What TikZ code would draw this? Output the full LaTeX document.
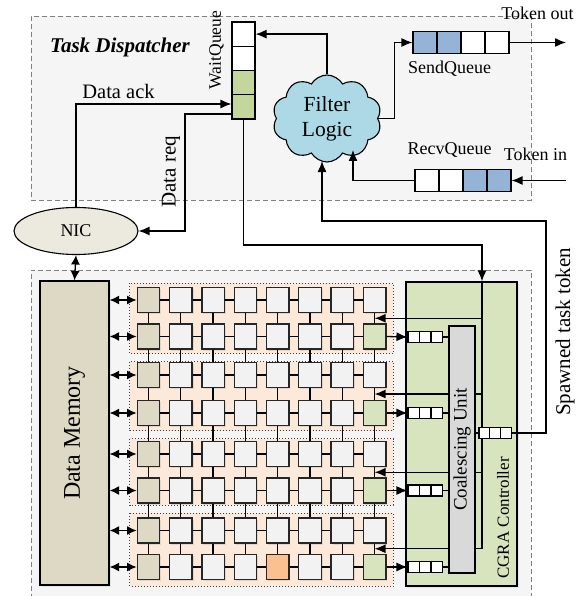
\documentclass[tikz,border=0pt]{standalone}
\usepackage{fontspec}
\setmainfont{Liberation Serif}
\usetikzlibrary{arrows.meta,shapes.symbols,shapes.geometric,shadows,calc}
\definecolor{dfill}{HTML}{F5F5F5}
\definecolor{dgray}{HTML}{808080}
\definecolor{qgreen}{HTML}{C3D69B}
\definecolor{qblue}{HTML}{95B3D7}
\definecolor{cloudblue}{HTML}{ADD8E6}
\definecolor{nicfill}{HTML}{ECEADF}
\definecolor{tan}{HTML}{DDD9C4}
\definecolor{pegray}{HTML}{F2F2F2}
\definecolor{pegreen}{HTML}{D7E4BD}
\definecolor{peorange}{HTML}{FAC090}
\definecolor{pinkbg}{HTML}{FDE9D9}
\definecolor{cufill}{HTML}{D9D9D9}
\definecolor{pedraw}{HTML}{262626}
\begin{document}
\begin{tikzpicture}[x=1pt,y=-1pt,
  every node/.style={font=\fontsize{18}{20}\selectfont},
  ln/.style={line width=1.3pt},
  arr/.style={ln,-{Latex[length=11pt,width=9pt]}},
  darr/.style={ln,{Latex[length=9.5pt,width=9pt]}-{Latex[length=9.5pt,width=9pt]}},
  dbox/.style={draw=dgray,dash pattern=on 5pt off 3pt,line width=0.9pt,fill=dfill,inner sep=0pt,anchor=north west},
  cell/.style={draw=black,line width=1.1pt,inner sep=0pt},
  pe/.style={draw=pedraw,line width=1.3pt,minimum width=22.5pt,minimum height=25pt,inner sep=0pt,
     drop shadow={opacity=0.2,shadow xshift=1.5pt,shadow yshift=-1.5pt}},
  grp/.style={draw=black!75,dotted,line width=1pt,fill=pinkbg},
  bigbox/.style={draw=black,line width=1.2pt,inner sep=0pt,
     drop shadow={opacity=0.15,shadow xshift=2pt,shadow yshift=-2pt}},
]
\useasboundingbox (0,0) rectangle (585,596);
\clip (0,0) rectangle (585,596);

% ---------- dashed regions ----------
\node[dbox,minimum width=500pt,minimum height=184pt] (td) at (31,16) {};
\node[dbox,minimum width=500pt,minimum height=340pt] (cg) at (31,270) {};

\node[font=\fontsize{21}{21}\selectfont\bfseries\itshape] (tdl) at (120,47) {Task Dispatcher};

% ---------- WaitQueue ----------
\foreach \i/\c in {1/white,2/white,3/qgreen,4/qgreen}
  \node[cell,fill=\c,minimum width=23pt,minimum height=24.25pt] (wq\i) at (243.5,{22+24.25*(\i-0.5)}) {};
\node[rotate=90,font=\fontsize{17.5}{18}\selectfont] (wql) at (216.5,50) {WaitQueue};

% ---------- SendQueue / RecvQueue ----------
\foreach \i/\c in {1/qblue,2/qblue,3/white,4/white}
  \node[cell,fill=\c,minimum width=24pt,minimum height=21.5pt] (sq\i) at ({413+24*(\i-0.5)},42.5) {};
\foreach \i/\c in {1/white,2/white,3/qblue,4/qblue}
  \node[cell,fill=\c,minimum width=24pt,minimum height=22.5pt] (rq\i) at ({415+24*(\i-0.5)},180.5) {};
\node (sql) at (449.5,69) {SendQueue};
\node (rql) at (449.5,150) {RecvQueue};
\node (tol) at (537.5,13) {Token out};
\node (til) at (535.5,154) {Token in};
\coordinate (tokout) at (566,42.5);
\coordinate (tokin) at (566,180.5);

% ---------- Filter logic ----------
\node[cloud,draw=black,line width=1.1pt,fill=cloudblue,cloud puffs=10,cloud puff arc=120,aspect=1.25,
  minimum width=109pt,minimum height=87pt,inner sep=0pt,align=center,
  font=\fontsize{21.5}{25}\selectfont] (fl) at (327,118.5) {Filter\\Logic};

% ---------- NIC ----------
\node[ellipse,draw=black,line width=1.1pt,fill=nicfill,minimum width=124pt,minimum height=47pt,inner sep=0pt] (nic) at (76,231) {NIC};

% ---------- top connectors ----------
\coordinate (ackY) at (0,104);
\coordinate (reqY) at (0,114);
\coordinate (reqc) at (185,231);
\draw[arr] (nic.north) |- (wq4.west |- ackY);
\node[font=\fontsize{20.5}{21}\selectfont] (ackl) at (118.5,91) {Data ack};
\draw[arr] (wq4.west |- reqY) -| (reqc) -- (nic.east);
\node[rotate=90,font=\fontsize{21}{21}\selectfont] (reql) at (171,172) {Data req};
\draw[arr] (fl.north) |- (wq1.east);
\draw[arr] (fl.east) -- ++(16,0) |- (sq1.west);
\draw[arr] (sq4.east) -- (tokout);
\draw[arr] (tokin) -- (rq4.east);
\coordinate (flin1) at (353,150);
\draw[arr] (rq1.west) -| (flin1);

% ---------- pink groups ----------
\draw[grp] (129.5,283) rectangle (393,353.5);
\draw[grp] (129.5,361.5) rectangle (393,430.5);
\draw[grp] (129.5,438.5) rectangle (393,505);
\draw[grp] (129.5,513) rectangle (393,586);

% ---------- PEs ----------
\foreach \r/\yy in {1/300,2/336.5,3/375,4/413,5/454,6/490.5,7/530.5,8/567}{
  \foreach \c in {1,...,8}{
    \def\pefill{pegray}
    \ifnum\c=1 \def\pefill{tan}\fi
    \ifnum\c=8 \ifodd\r\else\def\pefill{pegreen}\fi\fi
    \ifnum\r=8 \ifnum\c=5 \def\pefill{peorange}\fi\fi
    \node[pe,fill=\pefill] (pe-\r-\c) at ({148.5+32.3*(\c-1)},\yy) {};
  }
}
\foreach \r in {1,...,8}{
  \foreach \c in {1,...,7}{
    \pgfmathtruncatemacro{\cn}{\c+1}
    \draw[ln] (pe-\r-\c.east) -- (pe-\r-\cn.west);
  }
}
\foreach \r in {1,...,7}{
  \pgfmathtruncatemacro{\rn}{\r+1}
  \foreach \c in {1,...,8}{
    \draw[ln] (pe-\r-\c.south) -- (pe-\rn-\c.north);
  }
}

% ---------- Data memory ----------
\node[bigbox,fill=tan,minimum width=69pt,minimum height=304pt,font=\fontsize{24}{24}\selectfont] (dm) at (74.5,433)
  {\rotatebox{90}{Data Memory}};
\draw[darr] (nic.south) -- (dm.north);
\foreach \r in {1,...,8}
  \draw[darr] (dm.east |- pe-\r-1.west) -- (pe-\r-1.west);

% ---------- CGRA controller ----------
\node[bigbox,fill=pegreen,minimum width=111pt,minimum height=304pt] (ctrl) at (461.5,434) {};
\node[rotate=90,font=\fontsize{17}{17}\selectfont] (ctrll) at (503,518) {CGRA Controller};

\coordinate (cj) at (482,245);
\draw[arr] (wq4.south) |- (cj) -- (cj |- ctrl.north);
\foreach \a/\b/\k in {1/2/1,3/4/2,5/6/3,7/8/4}
  \coordinate (m\k) at ($(pe-\a-8.south)!0.5!(pe-\b-8.north)$);
\draw[ln] (cj |- ctrl.north) -- (cj |- m4);
\foreach \k in {1,...,4}
  \draw[arr] (cj |- m\k) -- (m\k);

% ---------- coalescing unit ----------
\node[draw=black,line width=1.2pt,fill=cufill,inner sep=0pt,minimum width=26pt,minimum height=247pt,
  font=\fontsize{19}{19}\selectfont] (cu) at (462,449.5) {\rotatebox{90}{Coalescing Unit}};

% ---------- row queues ----------
\foreach \r/\yy in {2/337,4/413,6/490.5,8/567}{
  \foreach \k in {1,2,3}
    \node[cell,fill=white,minimum width=11.5pt,minimum height=11pt] (gq-\r-\k) at ({408+11.5*(\k-0.5)},\yy) {};
  \draw[arr] (pe-\r-8.east) -- (gq-\r-1.west);
  \draw[ln] (gq-\r-3.east) -- (cu.west |- gq-\r-3.east);
}

% ---------- spawn queue ----------
\foreach \k in {1,2,3}
  \node[cell,fill=white,minimum width=10.7pt,minimum height=11pt] (spq\k) at ({479+10.7*(\k-0.5)},433) {};
\draw[ln] (cu.east |- spq1.west) -- (spq1.west);
\coordinate (sp1) at (546,221);
\coordinate (flin2) at (322,161);
\draw[arr] (spq3.east) -| (sp1) -| (flin2);
\node[rotate=90,font=\fontsize{21}{21}\selectfont] (spl) at (565,332) {Spawned task token};
\end{tikzpicture}
\end{document}
